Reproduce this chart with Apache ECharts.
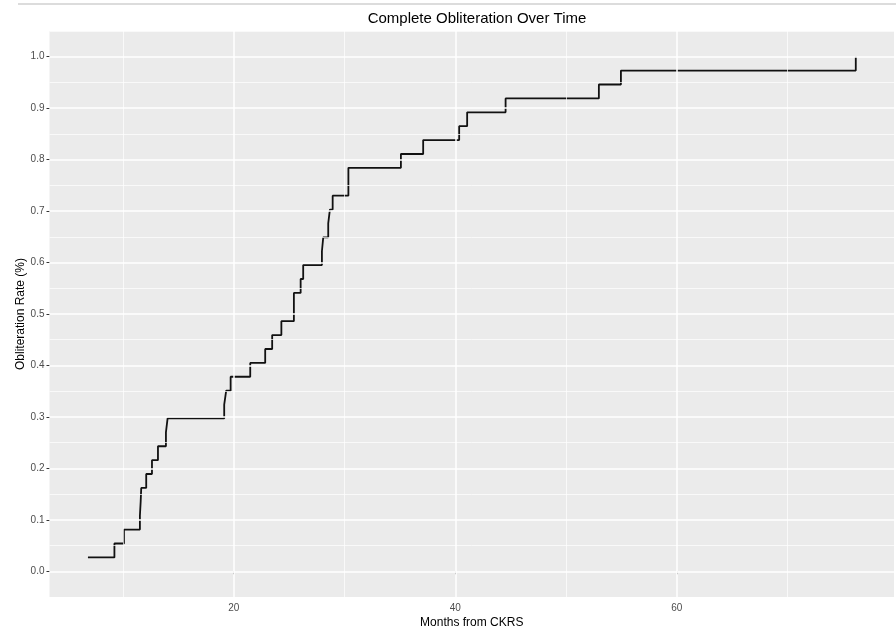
<!DOCTYPE html>
<html>
<head>
<meta charset="utf-8">
<script src="https://cdn.jsdelivr.net/npm/echarts@6/dist/echarts.min.js"></script>
<style>
html,body{margin:0;padding:0;background:#fff;}
#chart{width:896px;height:632px;}
</style>
</head>
<body>
<div id="chart"></div>
<script>
// Months from CKRS at each obliteration event
var months = [6.84, 9.23, 10.09, 11.53, 11.60, 11.65, 12.10, 12.62, 13.16, 13.88, 14.03,
  19.14, 19.32, 19.72, 21.49, 22.84, 23.47, 24.30, 25.43, 26.04, 26.27,
  27.96, 28.08, 28.53, 28.68, 28.93, 30.35, 35.09, 37.10, 40.35, 41.07,
  44.54, 52.96, 54.95, 76.15];
// Cumulative obliteration rate after each event
var rates = [0.027, 0.054, 0.081, 0.108, 0.135, 0.162, 0.189, 0.216, 0.243, 0.270, 0.297,
  0.324, 0.351, 0.378, 0.405, 0.432, 0.459, 0.486, 0.541, 0.568, 0.595,
  0.622, 0.649, 0.676, 0.703, 0.730, 0.784, 0.811, 0.838, 0.865, 0.892,
  0.919, 0.946, 0.973, 1.000];
var xTicks = [20, 40, 60];
var xMinor = [10, 30, 50, 70];
var yTicks = [0, 0.1, 0.2, 0.3, 0.4, 0.5, 0.6, 0.7, 0.8, 0.9, 1.0];
var yMinor = [-0.05, 0.05, 0.15, 0.25, 0.35, 0.45, 0.55, 0.65, 0.75, 0.85, 0.95, 1.05];

var points = months.map(function (m, i) { return [m, rates[i]]; });
var font = 'Liberation Sans, Arial, Helvetica, sans-serif';

var gridLines = [];
xMinor.forEach(function (v) { gridLines.push({ xAxis: v, lineStyle: { width: 0.7 } }); });
yMinor.forEach(function (v) { gridLines.push({ yAxis: v, lineStyle: { width: 0.7 } }); });
xTicks.forEach(function (v) { gridLines.push({ xAxis: v, lineStyle: { width: 1.5 } }); });
yTicks.forEach(function (v) { gridLines.push({ yAxis: v, lineStyle: { width: 1.5 } }); });

var chart = echarts.init(document.getElementById('chart'), null, { renderer: 'canvas' });
chart.setOption({
  animation: false,
  backgroundColor: '#ffffff',
  title: {
    text: 'Complete Obliteration Over Time',
    left: 472, top: 6, textAlign: 'center',
    textStyle: { fontFamily: font, fontSize: 15, fontWeight: 'normal', color: '#000' }
  },
  graphic: [{
    type: 'line', shape: { x1: 18, y1: 4, x2: 896, y2: 4 },
    style: { stroke: '#dcdcdc', lineWidth: 2 }, silent: true
  }],
  grid: { left: 49.5, right: 2, top: 31, bottom: 35, show: true, backgroundColor: '#EBEBEB',
    borderWidth: 0, containLabel: false, outerBoundsMode: 'none' },
  xAxis: {
    type: 'value', min: 3.37, max: 79.6,
    name: 'Months from CKRS', nameLocation: 'middle', nameGap: 20, nameMoveOverlap: false,
    nameTextStyle: { fontFamily: font, fontSize: 12, color: '#000' },
    axisLine: { show: false },
    axisTick: { show: true, length: 3, customValues: xTicks, lineStyle: { color: '#333', width: 1 } },
    axisLabel: { customValues: xTicks, margin: 6, fontFamily: font, fontSize: 10, color: '#4d4d4d' },
    splitLine: { show: false }
  },
  yAxis: {
    type: 'value', min: -0.05, max: 1.05,
    name: 'Obliteration Rate (%)', nameLocation: 'middle', nameGap: 23, nameRotate: 90,
    nameMoveOverlap: false,
    nameTextStyle: { fontFamily: font, fontSize: 12, color: '#000' },
    axisLine: { show: false },
    axisTick: { show: true, length: 3, customValues: yTicks, lineStyle: { color: '#333', width: 1 } },
    axisLabel: { customValues: yTicks, margin: 5, fontFamily: font, fontSize: 10, color: '#4d4d4d',
      formatter: function (v) { return v.toFixed(1); } },
    splitLine: { show: false }
  },
  series: [{
    type: 'line', data: [], z: 1, silent: true,
    markLine: {
      silent: true, symbol: ['none', 'none'], label: { show: false },
      lineStyle: { color: '#ffffff', type: 'solid' }, data: gridLines, animation: false
    }
  }, {
    type: 'line', data: points, step: 'end', z: 3,
    showSymbol: false, symbol: 'none',
    lineStyle: { color: '#111111', width: 1.8 }
  }]
});
</script>
</body>
</html>
